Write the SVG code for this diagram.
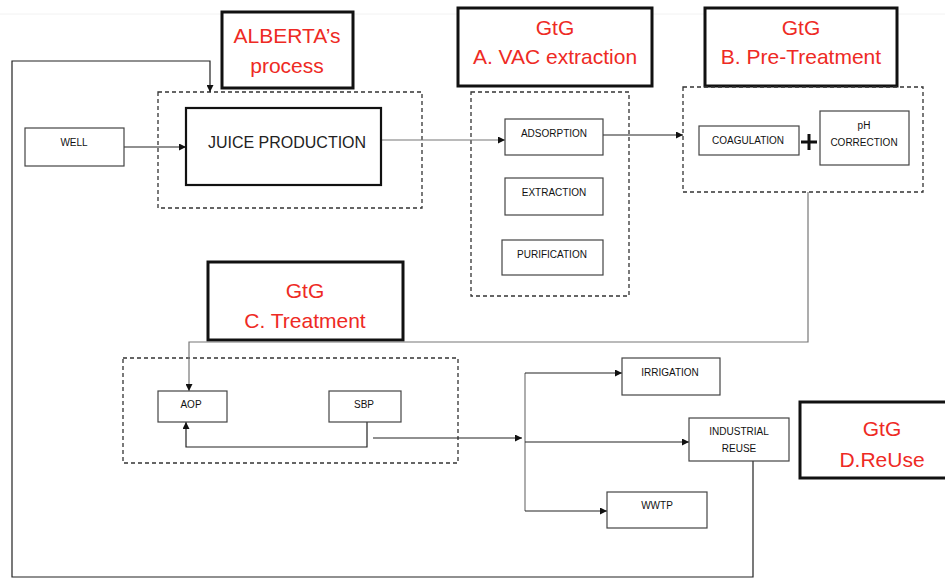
<svg xmlns="http://www.w3.org/2000/svg" width="945" height="579" viewBox="0 0 945 579">
<defs>
<marker id="ah" viewBox="0 0 10 10" refX="10" refY="5" markerWidth="7" markerHeight="7" markerUnits="userSpaceOnUse" orient="auto"><path d="M0,0 L10,5 L0,10 z" fill="#111"/></marker>
<style>
.lbl{fill:#fff;stroke:#111;stroke-width:3}
.red{font-family:"Liberation Sans",Arial,sans-serif;font-size:21px;fill:#ee2a24;text-anchor:middle}
.dash{fill:none;stroke:#333;stroke-width:1.3;stroke-dasharray:4,3}
.node{fill:#fff;stroke:#444;stroke-width:1.2}
.t{font-family:"Liberation Sans",Arial,sans-serif;font-size:10px;fill:#111;text-anchor:middle}
.c{fill:none;stroke:#222;stroke-width:1.2}
.cg{fill:none;stroke:#777;stroke-width:1.2}
</style>
</defs>
<rect width="945" height="579" fill="#fff"/>
<line x1="0" y1="14" x2="945" y2="14" stroke="#f2f2f2" stroke-width="1"/>

<g id="label-alberta"><rect class="lbl" x="222" y="12" width="131" height="76"/><text class="red" x="287" y="43">ALBERTA’s</text><text class="red" x="287" y="73">process</text></g>
<g id="label-a"><rect class="lbl" x="458" y="8" width="194" height="78"/><text class="red" x="555" y="35">GtG</text><text class="red" x="555" y="64">A. VAC extraction</text></g>
<g id="label-b"><rect class="lbl" x="705" y="8" width="192" height="78"/><text class="red" x="801" y="35">GtG</text><text class="red" x="801" y="64">B. Pre-Treatment</text></g>
<g id="label-c"><rect class="lbl" x="208" y="262" width="195" height="78"/><text class="red" x="305" y="298">GtG</text><text class="red" x="305" y="328">C. Treatment</text></g>
<g id="label-d"><rect class="lbl" x="800" y="402" width="148" height="76"/><text class="red" x="882" y="436">GtG</text><text class="red" x="882" y="467">D.ReUse</text></g>

<g id="group-alberta"><rect class="dash" x="158" y="92" width="264" height="116"/></g>
<g id="group-a"><rect class="dash" x="471" y="92" width="158" height="204" stroke="#666"/></g>
<g id="group-b"><rect class="dash" x="683" y="87" width="240" height="105"/></g>
<g id="group-c"><rect class="dash" x="123" y="358" width="335" height="105"/></g>

<g id="connectors">
<path class="c" d="M124,147 H186" marker-end="url(#ah)"/>
<path class="cg" d="M381,140 H505" stroke-width="0.9" marker-end="url(#ah)"/>
<path class="c" d="M603,135 H683" marker-end="url(#ah)"/>
<path class="cg" d="M808,192 V342 H189 V391" marker-end="url(#ah)"/>
<path class="c" d="M367,422 V447 H186 V422" marker-end="url(#ah)"/>
<path class="c" d="M373,438 H522" stroke-width="1.6" marker-end="url(#ah)"/>
<path class="cg" d="M525,373 V511"/>
<path class="c" d="M525,373 H622" marker-end="url(#ah)"/>
<path class="c" d="M525,442 H689" marker-end="url(#ah)"/>
<path class="c" d="M525,511 H607" marker-end="url(#ah)"/>
<path class="c" d="M753,461 V577 H12 V61 H210 V92" stroke="#333" marker-end="url(#ah)"/>
</g>

<g id="well"><rect class="node" x="25" y="128" width="99" height="38"/><text class="t" x="74" y="146">WELL</text></g>
<g id="juice"><rect x="186" y="108" width="195" height="77" fill="#fff" stroke="#111" stroke-width="2.2"/><text x="287" y="148" font-family="'Liberation Sans',Arial,sans-serif" font-size="16" fill="#222" text-anchor="middle">JUICE PRODUCTION</text></g>
<g id="adsorption"><rect class="node" x="505" y="119" width="98" height="36"/><text class="t" x="554" y="137">ADSORPTION</text></g>
<g id="extraction"><rect class="node" x="505" y="178" width="98" height="37"/><text class="t" x="554" y="196">EXTRACTION</text></g>
<g id="purification"><rect class="node" x="502" y="240" width="101" height="35"/><text class="t" x="552" y="258">PURIFICATION</text></g>
<g id="coagulation"><rect class="node" x="699" y="126" width="100" height="29"/><text class="t" x="748" y="144">COAGULATION</text></g>
<g id="plus"><path d="M801,142 H817 M809,134 V150" stroke="#111" stroke-width="3"/></g>
<g id="ph"><rect class="node" x="820" y="111" width="89" height="54"/><text class="t" x="864" y="129">pH</text><text class="t" x="864" y="146">CORRECTION</text></g>
<g id="aop"><rect class="node" x="158" y="391" width="69" height="31"/><text class="t" x="191" y="408">AOP</text></g>
<g id="sbp"><rect class="node" x="329" y="391" width="72" height="31"/><text class="t" x="364" y="408">SBP</text></g>
<g id="irrigation"><rect class="node" x="622" y="358" width="98" height="37"/><text class="t" x="670" y="376">IRRIGATION</text></g>
<g id="industrial"><rect class="node" x="689" y="418" width="100" height="43"/><text class="t" x="739" y="435">INDUSTRIAL</text><text class="t" x="739" y="452">REUSE</text></g>
<g id="wwtp"><rect class="node" x="607" y="492" width="100" height="36"/><text class="t" x="657" y="509">WWTP</text></g>
</svg>
